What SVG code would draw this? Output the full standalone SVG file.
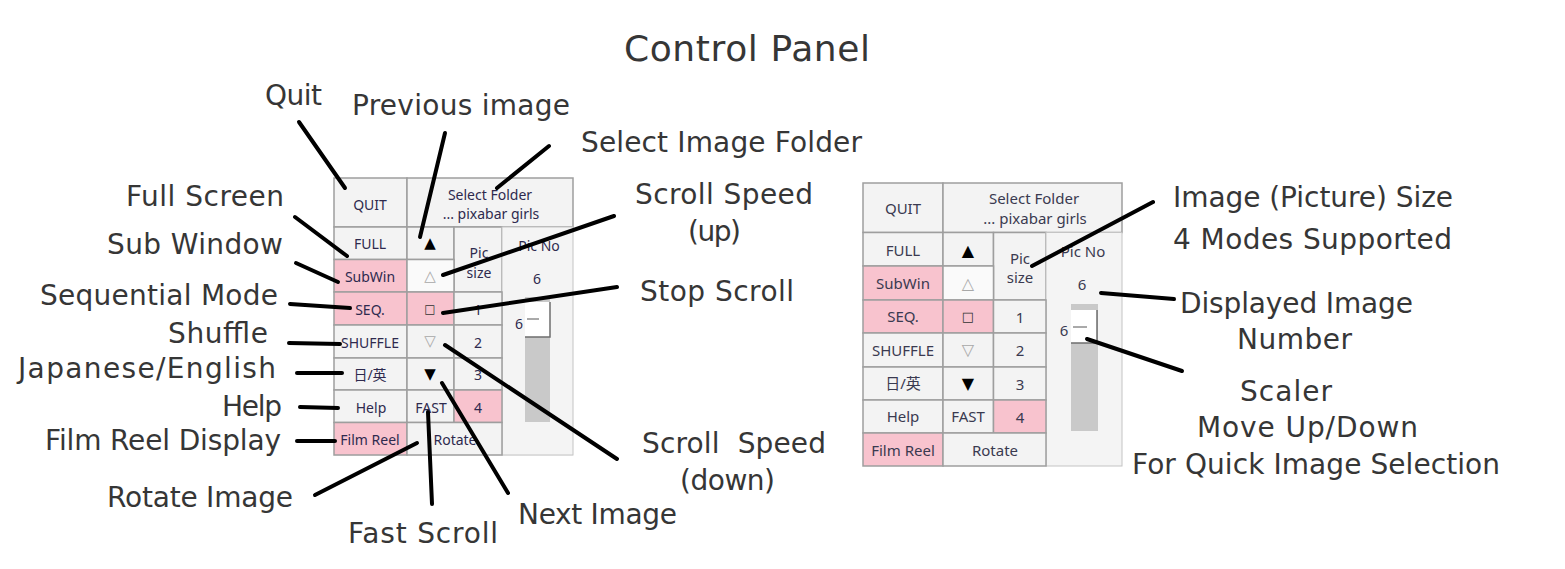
<svg xmlns="http://www.w3.org/2000/svg" width="1565" height="569" viewBox="0 0 1565 569">
<style>
.lbl{font-family:"DejaVu Sans","Open Sans",sans-serif;font-size:28px;fill:#363636}
.ttl{font-family:"DejaVu Sans","Open Sans",sans-serif;font-size:36px;fill:#363636}
.cell{fill:#f3f3f3;stroke:#9e9e9e;stroke-width:1.5}
.pink{fill:#f8c3ce;stroke:#9e9e9e;stroke-width:1.5}
.wcell{fill:#fafafa;stroke:#9e9e9e;stroke-width:1.5}
.col4{fill:#f4f4f4;stroke:#c4c4c4;stroke-width:1}
.pbg{fill:#f4f4f4}
.ct{font-family:"Noto Sans","Open Sans","Noto Sans CJK JP",sans-serif;font-size:14px;fill:#2e2a4e;text-anchor:middle;dominant-baseline:central}
.ctr{font-family:"Noto Sans","Open Sans","Noto Sans CJK JP",sans-serif;font-size:15px;fill:#3a3a50;text-anchor:middle;dominant-baseline:central}
.sym{font-family:"DejaVu Sans",sans-serif;text-anchor:middle;dominant-baseline:central}
.track{fill:#c9c9c9}
.thumb{fill:#ffffff}
.edge{stroke:#6e6e6e;stroke-width:1.5;fill:none}
.tick{stroke:#555;stroke-width:1;fill:none}
.conn line{stroke:#000;stroke-width:4;stroke-linecap:round}
</style>

<text id="title" class="ttl" x="624" y="61" textLength="246">Control Panel</text>

<!-- Left panel -->
<g id="left-panel">
  <rect class="pbg" x="334" y="178" width="239" height="278"/>
  <g id="l-quit"><rect class="cell" x="334" y="178" width="73" height="49"/><text class="ct" x="370" y="204">QUIT</text></g>
  <g id="l-folder"><rect class="cell" x="407" y="178" width="166" height="49"/><text class="ct" x="490" y="194">Select Folder</text><text class="ct" x="491" y="213">... pixabar girls</text></g>
  <g id="l-full"><rect class="cell" x="334" y="227" width="73" height="32.5"/><text class="ct" x="370" y="243">FULL</text></g>
  <g id="l-prev"><rect class="cell" x="407" y="227" width="47" height="32.5"/><text class="sym" x="430" y="243" font-size="15" fill="#000">▲</text></g>
  <g id="l-picsize"><rect class="cell" x="454" y="227" width="48" height="65"/><text class="ct" x="479" y="252">Pic</text><text class="ct" x="479" y="272">size</text></g>
  <g id="l-picno"><rect class="col4" x="502" y="227" width="71" height="228"/><text class="ct" x="539" y="245">Pic No</text><text class="ct" x="537" y="278">6</text>
    <rect class="track" x="525" y="297" width="25" height="125"/>
    <rect class="thumb" x="525" y="302" width="25" height="35"/>
    <polyline class="edge" points="550,302 550,337 525,337"/>
    <line class="tick" x1="527" y1="319" x2="539" y2="319"/>
    <text class="ct" x="519" y="323">6</text>
  </g>
  <g id="l-subwin"><rect class="pink" x="334" y="259.5" width="73" height="32.5"/><text class="ct" x="370" y="276">SubWin</text></g>
  <g id="l-up"><rect class="wcell" x="407" y="259.5" width="47" height="32.5"/><text class="sym" x="430" y="276" font-size="15" fill="#a8a8a8">△</text></g>
  <g id="l-seq"><rect class="pink" x="334" y="292" width="73" height="33"/><text class="ct" x="370" y="309">SEQ.</text></g>
  <g id="l-stop"><rect class="pink" x="407" y="292" width="47" height="33"/><text class="sym" x="430" y="309" font-size="12" fill="#333">□</text></g>
  <g id="l-1"><rect class="cell" x="454" y="292" width="48" height="33"/><text class="ct" x="478" y="309">1</text></g>
  <g id="l-shuffle"><rect class="cell" x="334" y="325" width="73" height="33"/><text class="ct" x="370" y="342">SHUFFLE</text></g>
  <g id="l-down"><rect class="cell" x="407" y="325" width="47" height="33"/><text class="sym" x="430" y="341" font-size="15" fill="#a8a8a8">▽</text></g>
  <g id="l-2"><rect class="cell" x="454" y="325" width="48" height="33"/><text class="ct" x="478" y="342">2</text></g>
  <g id="l-lang"><rect class="cell" x="334" y="358" width="73" height="32"/><text class="ct" x="370" y="374" font-family="'Noto Sans CJK JP',sans-serif">日/英</text></g>
  <g id="l-next"><rect class="cell" x="407" y="358" width="47" height="32"/><text class="sym" x="430" y="374" font-size="15" fill="#000">▼</text></g>
  <g id="l-3"><rect class="cell" x="454" y="358" width="48" height="32"/><text class="ct" x="478" y="374">3</text></g>
  <g id="l-help"><rect class="cell" x="334" y="390" width="73" height="32.5"/><text class="ct" x="371" y="407">Help</text></g>
  <g id="l-fast"><rect class="cell" x="407" y="390" width="47" height="32.5"/><text class="ct" x="431" y="407">FAST</text></g>
  <g id="l-4"><rect class="pink" x="454" y="390" width="48" height="32.5"/><text class="ct" x="478" y="407">4</text></g>
  <g id="l-film"><rect class="pink" x="334" y="422.5" width="73" height="32.5"/><text class="ct" x="370" y="439">Film Reel</text></g>
  <g id="l-rotate"><rect class="cell" x="407" y="422.5" width="95" height="32.5"/><text class="ct" x="455" y="439">Rotate</text></g>
</g>

<!-- Right panel -->
<g id="right-panel">
  <rect class="pbg" x="863" y="183" width="259" height="283"/>
  <g id="r-quit"><rect class="cell" x="863" y="183" width="80" height="49.5"/><text class="ctr" x="903" y="208">QUIT</text></g>
  <g id="r-folder"><rect class="cell" x="943" y="183" width="179" height="49.5"/><text class="ctr" x="1034" y="198">Select Folder</text><text class="ctr" x="1035" y="218">... pixabar girls</text></g>
  <g id="r-full"><rect class="cell" x="863" y="232.5" width="80" height="33.5"/><text class="ctr" x="903" y="250">FULL</text></g>
  <g id="r-prev"><rect class="cell" x="943" y="232.5" width="50.5" height="33.5"/><text class="sym" x="968" y="250" font-size="16" fill="#000">▲</text></g>
  <g id="r-picsize"><rect class="cell" x="993.5" y="232.5" width="52.5" height="67.5"/><text class="ctr" x="1020" y="258">Pic</text><text class="ctr" x="1020" y="277">size</text></g>
  <g id="r-picno"><rect class="col4" x="1046" y="232.5" width="76" height="233.5"/><text class="ctr" x="1083" y="251">Pic No</text><text class="ctr" x="1082" y="284">6</text>
    <rect class="track" x="1071" y="304" width="27" height="127"/>
    <rect class="thumb" x="1071" y="310" width="26" height="33"/>
    <polyline class="edge" points="1097,310 1097,343 1071,343"/>
    <line class="tick" x1="1073" y1="327" x2="1087" y2="327"/>
    <text class="ctr" x="1064" y="330">6</text>
  </g>
  <g id="r-subwin"><rect class="pink" x="863" y="266" width="80" height="34"/><text class="ctr" x="903" y="283">SubWin</text></g>
  <g id="r-up"><rect class="wcell" x="943" y="266" width="50.5" height="34"/><text class="sym" x="968" y="283" font-size="16" fill="#a8a8a8">△</text></g>
  <g id="r-seq"><rect class="pink" x="863" y="300" width="80" height="33"/><text class="ctr" x="903" y="316">SEQ.</text></g>
  <g id="r-stop"><rect class="pink" x="943" y="300" width="50.5" height="33"/><text class="sym" x="968" y="316" font-size="13" fill="#333">□</text></g>
  <g id="r-1"><rect class="cell" x="993.5" y="300" width="52.5" height="33"/><text class="ctr" x="1020" y="317">1</text></g>
  <g id="r-shuffle"><rect class="cell" x="863" y="333" width="80" height="34"/><text class="ctr" x="903" y="350">SHUFFLE</text></g>
  <g id="r-down"><rect class="cell" x="943" y="333" width="50.5" height="34"/><text class="sym" x="968" y="349" font-size="16" fill="#a8a8a8">▽</text></g>
  <g id="r-2"><rect class="cell" x="993.5" y="333" width="52.5" height="34"/><text class="ctr" x="1020" y="350">2</text></g>
  <g id="r-lang"><rect class="cell" x="863" y="367" width="80" height="33"/><text class="ctr" x="903" y="383" font-family="'Noto Sans CJK JP',sans-serif">日/英</text></g>
  <g id="r-next"><rect class="cell" x="943" y="367" width="50.5" height="33"/><text class="sym" x="968" y="383" font-size="16" fill="#000">▼</text></g>
  <g id="r-3"><rect class="cell" x="993.5" y="367" width="52.5" height="33"/><text class="ctr" x="1020" y="384">3</text></g>
  <g id="r-help"><rect class="cell" x="863" y="400" width="80" height="33"/><text class="ctr" x="903" y="416">Help</text></g>
  <g id="r-fast"><rect class="cell" x="943" y="400" width="50.5" height="33"/><text class="ctr" x="968" y="416">FAST</text></g>
  <g id="r-4"><rect class="pink" x="993.5" y="400" width="52.5" height="33"/><text class="ctr" x="1020" y="417">4</text></g>
  <g id="r-film"><rect class="pink" x="863" y="433" width="80" height="33"/><text class="ctr" x="903" y="450">Film Reel</text></g>
  <g id="r-rotate"><rect class="cell" x="943" y="433" width="103" height="33"/><text class="ctr" x="995" y="450">Rotate</text></g>
</g>

<!-- Labels -->
<g id="labels">
  <text class="lbl" x="265" y="105" textLength="57">Quit</text>
  <text class="lbl" x="352" y="115" textLength="218">Previous image</text>
  <text class="lbl" x="581" y="152" textLength="281">Select Image Folder</text>
  <text class="lbl" x="126" y="206" textLength="158">Full Screen</text>
  <text class="lbl" x="107" y="254" textLength="176">Sub Window</text>
  <text class="lbl" x="40" y="305" textLength="238">Sequential Mode</text>
  <text class="lbl" x="635" y="204" textLength="178">Scroll Speed</text>
  <text class="lbl" x="688" y="241" textLength="53">(up)</text>
  <text class="lbl" x="640" y="301" textLength="154">Stop Scroll</text>
  <text class="lbl" x="168" y="343" textLength="100">Shuffle</text>
  <text class="lbl" x="18" y="378" textLength="258">Japanese/English</text>
  <text class="lbl" x="222" y="416" textLength="60">Help</text>
  <text class="lbl" x="45" y="450" textLength="236">Film Reel Display</text>
  <text class="lbl" x="107" y="507" textLength="186">Rotate Image</text>
  <text class="lbl" x="348" y="543" textLength="150">Fast Scroll</text>
  <text class="lbl" x="518" y="524" textLength="159">Next Image</text>
  <text class="lbl" x="642" y="453" textLength="184" xml:space="preserve">Scroll  Speed</text>
  <text class="lbl" x="680" y="490" textLength="95">(down)</text>
  <text class="lbl" x="1173" y="207" textLength="280">Image (Picture) Size</text>
  <text class="lbl" x="1173" y="249" textLength="279">4 Modes Supported</text>
  <text class="lbl" x="1180" y="313" textLength="233">Displayed Image</text>
  <text class="lbl" x="1237" y="349" textLength="115">Number</text>
  <text class="lbl" x="1240" y="401" textLength="92">Scaler</text>
  <text class="lbl" x="1197" y="437" textLength="221">Move Up/Down</text>
  <text class="lbl" x="1132" y="474" textLength="368">For Quick Image Selection</text>
</g>

<!-- Connectors -->
<g id="connectors" class="conn">
  <line x1="299" y1="122" x2="345" y2="188"/>
  <line x1="295" y1="217" x2="347" y2="256"/>
  <line x1="296" y1="263" x2="338" y2="282"/>
  <line x1="290" y1="304" x2="350" y2="308"/>
  <line x1="289" y1="343" x2="340" y2="344"/>
  <line x1="297" y1="373" x2="342" y2="373"/>
  <line x1="300" y1="407" x2="338" y2="408"/>
  <line x1="297" y1="441" x2="335" y2="441"/>
  <line x1="315" y1="495" x2="417" y2="443"/>
  <line x1="432" y1="504" x2="428" y2="412"/>
  <line x1="508" y1="493" x2="442" y2="383"/>
  <line x1="617" y1="459" x2="445" y2="345"/>
  <line x1="617" y1="287" x2="443" y2="313"/>
  <line x1="614" y1="216" x2="443" y2="275"/>
  <line x1="549" y1="146" x2="497" y2="188"/>
  <line x1="445" y1="133" x2="420" y2="237"/>
  <line x1="1153" y1="202" x2="1032" y2="266"/>
  <line x1="1174" y1="299" x2="1101" y2="293"/>
  <line x1="1182" y1="371" x2="1087" y2="339"/>
</g>
</svg>
